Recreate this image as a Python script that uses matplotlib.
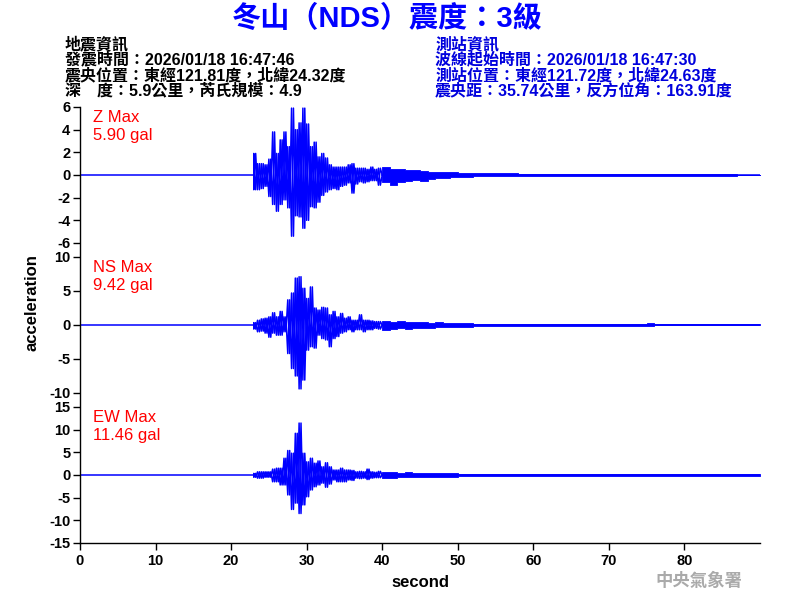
import numpy as np
import matplotlib
matplotlib.use("Agg")
import matplotlib.pyplot as plt
from matplotlib.lines import Line2D

plt.rcParams['font.family'] = ['Liberation Sans', 'Noto Sans CJK TC', 'DejaVu Sans']
plt.rcParams['axes.unicode_minus'] = False

# record layout (seconds)
t_end = 90.0
bin_main = 0.5      # envelope bins 23 s .. 40 s
bin_coda = 1.0      # envelope bins 40 s .. 90 s
main_start = 23.0
coda_start = 40.0

comp_names = ["Z", "NS", "EW"]
comp_max = [5.90, 9.42, 11.46]
onsets = [22.9, 22.9, 23.1]
ylims = [6, 10, 15]
ytick_steps = [2, 5, 5]

# envelope, main part (0.5 s bins from 23 s)
z_hi = [1.9, 1.0, 1.0, 0.9, 1.4, 3.8, 1.9, 3.1, 3.8, 2.5, 5.9, 4.0, 4.6, 5.9, 4.5, 2.5, 2.9,
        1.6, 1.9, 1.5, 0.9, 0.7, 0.7, 0.7, 0.7, 0.9, 1.0, 0.6, 0.6, 0.6, 0.5, 0.7, 0.5, 0.6]
z_lo = [-1.3, -1.3, -1.2, -1.0, -1.9, -2.6, -3.2, -2.6, -2.2, -2.9, -5.4, -3.6, -3.7, -4.7, -4.0, -2.8, -2.9,
        -2.4, -1.8, -1.5, -1.3, -1.2, -1.3, -1.0, -0.9, -0.7, -1.6, -0.8, -0.6, -0.7, -0.6, -0.5, -0.5, -0.9]
ns_hi = [0.35, 0.7, 0.9, 1.0, 1.2, 1.8, 1.2, 2.0, 1.2, 3.7, 4.7, 6.9, 7.1, 5.4, 3.9, 5.6, 2.5,
         2.2, 2.6, 2.5, 1.5, 2.0, 1.2, 1.7, 1.0, 1.2, 0.7, 0.7, 1.5, 0.7, 0.7, 0.6, 0.5, 0.5]
ns_lo = [-0.6, -1.0, -0.9, -1.2, -1.8, -1.2, -1.5, -1.5, -1.0, -4.2, -6.4, -7.5, -9.4, -8.1, -3.7, -3.2, -3.4,
         -1.5, -2.0, -2.2, -3.2, -2.0, -1.7, -1.2, -1.0, -0.7, -1.0, -0.7, -0.7, -1.0, -0.7, -0.7, -0.5, -0.6]
ew_hi = [0.35, 0.7, 0.7, 0.7, 0.7, 1.3, 1.5, 1.5, 3.7, 5.4, 4.8, 9.2, 11.46, 4.8, 2.9, 3.7, 2.6,
         3.1, 1.8, 2.7, 1.8, 1.1, 1.1, 1.5, 1.1, 1.1, 1.0, 0.7, 0.8, 0.7, 1.3, 0.7, 0.6, 0.8]
ew_lo = [-0.5, -0.7, -0.7, -0.5, -0.5, -1.5, -1.5, -2.2, -2.2, -4.4, -7.6, -6.2, -8.5, -6.6, -4.8, -3.3, -2.6,
         -2.2, -1.8, -2.7, -2.0, -1.1, -1.5, -1.5, -1.5, -1.1, -1.2, -0.7, -0.8, -0.7, -1.0, -0.7, -0.6, -0.6]

# coda envelope (1 s bins from 40 s to 90 s)
z_coda_hi = [0.7, 0.5, 0.5, 0.45, 0.45, 0.35, 0.3, 0.3, 0.25, 0.25, 0.2, 0.2,
             0.15, 0.15, 0.15, 0.15, 0.15, 0.15, 0.12, 0.12, 0.12, 0.12, 0.12, 0.12, 0.12, 0.12,
             0.08, 0.08, 0.08, 0.08, 0.08, 0.08, 0.08, 0.08, 0.08, 0.08, 0.08, 0.08, 0.08, 0.08,
             0.08, 0.08, 0.08, 0.08, 0.08, 0.08, 0.08, 0.03, 0.03, 0.03]
z_coda_lo = [-0.6, -0.9, -0.6, -0.5, -0.45, -0.5, -0.35, -0.3, -0.25, -0.2, -0.2, -0.15,
             -0.12, -0.12, -0.12, -0.12, -0.12, -0.12, -0.1, -0.1, -0.1, -0.1, -0.1, -0.1, -0.1, -0.1,
             -0.05, -0.05, -0.05, -0.05, -0.05, -0.05, -0.05, -0.05, -0.05, -0.05, -0.05, -0.05, -0.05, -0.05,
             -0.05, -0.05, -0.05, -0.05, -0.05, -0.05, -0.05, -0.02, -0.02, -0.02]
ns_coda_hi = [0.6, 0.5, 0.6, 0.5, 0.5, 0.4, 0.35, 0.4, 0.3, 0.3, 0.3, 0.25,
              0.2, 0.2, 0.2, 0.2, 0.2, 0.2, 0.2, 0.2, 0.12, 0.12, 0.12, 0.12, 0.12, 0.12,
              0.12, 0.12, 0.12, 0.12, 0.12, 0.12, 0.12, 0.12, 0.12, 0.3, 0.08, 0.08, 0.08, 0.08,
              0.08, 0.08, 0.08, 0.08, 0.08, 0.08, 0.08, 0.08, 0.08, 0.08]
ns_coda_lo = [-0.7, -0.6, -0.5, -0.6, -0.5, -0.4, -0.4, -0.35, -0.3, -0.3, -0.3, -0.25,
              -0.2, -0.2, -0.2, -0.2, -0.2, -0.2, -0.2, -0.2, -0.12, -0.12, -0.12, -0.12, -0.12, -0.12,
              -0.12, -0.12, -0.12, -0.12, -0.12, -0.12, -0.12, -0.12, -0.12, -0.2, -0.06, -0.06, -0.06, -0.06,
              -0.06, -0.06, -0.06, -0.06, -0.06, -0.06, -0.06, -0.06, -0.06, -0.06]
ew_coda_hi = [0.6, 0.7, 0.5, 0.6, 0.5, 0.4, 0.4, 0.4, 0.35, 0.35, 0.3, 0.3,
              0.3, 0.3, 0.3, 0.22, 0.22, 0.22, 0.22, 0.22, 0.22, 0.22, 0.22, 0.22, 0.22,
              0.22, 0.22, 0.22, 0.22, 0.22, 0.15, 0.15, 0.15, 0.15, 0.15, 0.15, 0.15, 0.15, 0.15, 0.15,
              0.15, 0.15, 0.15, 0.15, 0.15, 0.15, 0.15, 0.15, 0.15, 0.15]
ew_coda_lo = [-0.6, -0.6, -0.5, -0.5, -0.5, -0.45, -0.4, -0.4, -0.35, -0.35, -0.3, -0.3,
              -0.3, -0.3, -0.3, -0.2, -0.2, -0.2, -0.2, -0.2, -0.2, -0.2, -0.2, -0.2, -0.2,
              -0.2, -0.2, -0.2, -0.2, -0.2, -0.12, -0.12, -0.12, -0.12, -0.12, -0.12, -0.12, -0.12, -0.12, -0.12,
              -0.12, -0.12, -0.12, -0.12, -0.12, -0.12, -0.12, -0.12, -0.12, -0.12]

hi_main = [z_hi, ns_hi, ew_hi]
lo_main = [z_lo, ns_lo, ew_lo]
hi_coda = [z_coda_hi, ns_coda_hi, ew_coda_hi]
lo_coda = [z_coda_lo, ns_coda_lo, ew_coda_lo]

eq_info = ["地震資訊",
           "發震時間：2026/01/18 16:47:46",
           "震央位置：東經121.81度，北緯24.32度",
           "深　度：5.9公里，芮氏規模：4.9"]
st_info = ["測站資訊",
           "波線起始時間：2026/01/18 16:47:30",
           "測站位置：東經121.72度，北緯24.63度",
           "震央距：35.74公里，反方位角：163.91度"]
title = "冬山（NDS）震度：3級"


def zigzag(start, step, a, b):
    # one sweep a -> b per bin
    tb = start + step * np.arange(len(a))
    x = np.column_stack([tb, tb + step / 2]).ravel()
    y = np.column_stack([a, b]).ravel()
    return x, y


blue = "#0000ff"
fig = plt.figure(figsize=(8, 6), dpi=100)
fig.patch.set_facecolor("white")

bottoms = [0.595, 0.345, 0.095]
for i in range(3):
    ax = fig.add_axes([0.1, bottoms[i], 0.85, 0.2267])
    # quiet part before the P arrival
    ax.plot([0.0, onsets[i], main_start], [0.0, 0.0, 0.0], color=blue, lw=1.1)
    # strong motion, drawn as sweeps between the bin envelopes
    for a, b in ((hi_main[i], lo_main[i]), (lo_main[i], hi_main[i])):
        x, y = zigzag(main_start, bin_main, a, b)
        ax.plot(np.r_[main_start, x, coda_start], np.r_[0.0, y, 0.0], color=blue, lw=1.1)
    # coda as a thin envelope band
    tc = coda_start + bin_coda * np.arange(len(hi_coda[i]) + 1)
    hc = np.r_[hi_coda[i], hi_coda[i][-1]]
    lc = np.r_[lo_coda[i], lo_coda[i][-1]]
    ax.fill_between(tc, lc, hc, step="post", color=blue, lw=0.6, edgecolor=blue)
    ax.plot([coda_start, t_end], [0, 0], color=blue, lw=1.1)

    ax.set_xlim(0, t_end)
    ax.set_ylim(-ylims[i], ylims[i])
    ax.set_yticks(np.arange(-ylims[i], ylims[i] + 0.1, ytick_steps[i]))
    for s in ["top", "right", "left"]:
        ax.spines[s].set_visible(False)
    ax.tick_params(axis="y", direction="out", length=5, width=1, pad=2)
    for lab in ax.get_yticklabels():
        lab.set_fontweight("bold")
        lab.set_fontsize(10.5)
    ax.text(0.019, 0.975, "%s Max\n%.2f gal" % (comp_names[i], comp_max[i]),
            transform=ax.transAxes, color="#ff0000", fontsize=12,
            va="top", ha="left", linespacing=1.25)
    if i < 2:
        ax.spines["bottom"].set_visible(False)
        ax.set_xticks([])
    else:
        ax.spines["bottom"].set_linewidth(1)
        ax.set_xticks(np.arange(0, 81, 10))
        ax.tick_params(axis="x", direction="out", length=5, width=1, pad=3)
        for lab in ax.get_xticklabels():
            lab.set_fontweight("bold")
            lab.set_fontsize(10.5)
        ax.set_xlabel("second", fontsize=12, fontweight="bold", labelpad=5)

# continuous left axis line
fig.add_artist(Line2D([0.1, 0.1], [0.095, 0.8217], transform=fig.transFigure,
                      color="black", lw=1))

fig.text(0.04, 0.495, "acceleration", rotation=90, fontsize=12, fontweight="bold",
         ha="center", va="center")

fig.text(0.4843, 0.968, title, color=blue, fontsize=21, fontweight="bold",
         ha="center", va="center")

for k, line in enumerate(eq_info):
    fig.text(0.081, 0.926 - k * 0.0258, line, fontsize=11.5, color="black",
             ha="left", va="center", fontweight="bold")
for k, line in enumerate(st_info):
    fig.text(0.544, 0.926 - k * 0.0258, line, fontsize=11.5, color="#0000dd",
             ha="left", va="center", fontweight="bold")

fig.text(0.819, 0.033, "中央氣象署", fontsize=12.5, color="#aaaaaa",
         ha="left", va="center", fontweight="bold")

fig.savefig("out.png", dpi=100)
